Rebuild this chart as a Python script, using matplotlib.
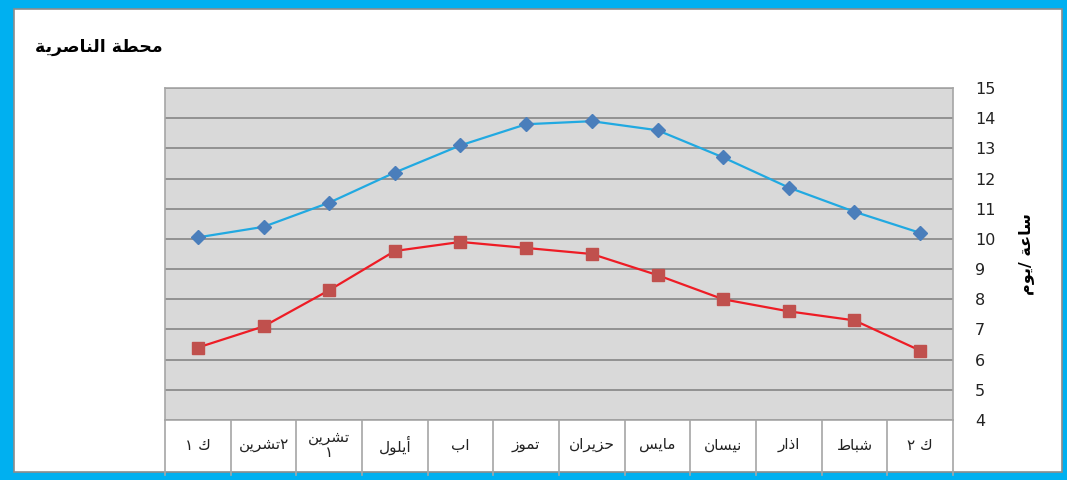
import matplotlib.pyplot as plt
from matplotlib.patches import Rectangle

# contextual glyphs (isolated, final, initial, medial); right-joining letters have only two
FORMS = {
    'ا': ('\ufe8d', '\ufe8e'),
    'أ': ('\ufe83', '\ufe84'),
    'ب': ('\ufe8f', '\ufe90', '\ufe91', '\ufe92'),
    'ة': ('\ufe93', '\ufe94'),
    'ت': ('\ufe95', '\ufe96', '\ufe97', '\ufe98'),
    'ح': ('\ufea1', '\ufea2', '\ufea3', '\ufea4'),
    'ذ': ('\ufeab', '\ufeac'),
    'ر': ('\ufead', '\ufeae'),
    'ز': ('\ufeaf', '\ufeb0'),
    'س': ('\ufeb1', '\ufeb2', '\ufeb3', '\ufeb4'),
    'ش': ('\ufeb5', '\ufeb6', '\ufeb7', '\ufeb8'),
    'ص': ('\ufeb9', '\ufeba', '\ufebb', '\ufebc'),
    'ط': ('\ufec1', '\ufec2', '\ufec3', '\ufec4'),
    'ع': ('\ufec9', '\ufeca', '\ufecb', '\ufecc'),
    'ك': ('\ufed9', '\ufeda', '\ufedb', '\ufedc'),
    'ل': ('\ufedd', '\ufede', '\ufedf', '\ufee0'),
    'م': ('\ufee1', '\ufee2', '\ufee3', '\ufee4'),
    'ن': ('\ufee5', '\ufee6', '\ufee7', '\ufee8'),
    'و': ('\ufeed', '\ufeee'),
    'ي': ('\ufef1', '\ufef2', '\ufef3', '\ufef4'),
}


def rtl(text):
    # join letters and reverse each line, since matplotlib lays text out left to right
    lines = []
    for line in text.split('\n'):
        out = []
        for i, ch in enumerate(line):
            f = FORMS.get(ch)
            if f is None:
                out.append(ch)
                continue
            prev = line[i - 1] if i > 0 else ''
            nxt = line[i + 1] if i + 1 < len(line) else ''
            join_prev = prev in FORMS and len(FORMS[prev]) == 4
            join_next = len(f) == 4 and nxt in FORMS
            if join_prev and join_next:
                out.append(f[3])
            elif join_prev:
                out.append(f[1])
            elif join_next:
                out.append(f[2])
            else:
                out.append(f[0])
        lines.append(''.join(reversed(out)))
    return '\n'.join(lines)


months = ['ك ١', '٢تشرين', 'تشرين\n١', 'أيلول', 'اب', 'تموز',
          'حزيران', 'مايس', 'نيسان', 'اذار', 'شباط', 'ك ٢']
upper = [10.05, 10.4, 11.2, 12.2, 13.1, 13.8, 13.9, 13.6, 12.7, 11.7, 10.9, 10.2]
lower = [6.4, 7.1, 8.3, 9.6, 9.9, 9.7, 9.5, 8.8, 8.0, 7.6, 7.3, 6.3]
yticks = list(range(4, 16))

plt.rcParams['font.family'] = 'DejaVu Sans'

fig = plt.figure(figsize=(10.67, 4.8), dpi=100)
fig.patch.set_facecolor('#00B0F0')
fig.patches.append(Rectangle((14 / 1067, 8 / 480), 1048 / 1067, 463 / 480,
                             transform=fig.transFigure, facecolor='white',
                             edgecolor='#8C8C8C', linewidth=1.2, zorder=-5))

ax = fig.add_axes([165 / 1067, 60 / 480, 788 / 1067, 332 / 480])
ax.set_facecolor('#D9D9D9')
x = list(range(len(months)))

ax.plot(x, upper, color='#21A9E1', linewidth=1.6, marker='D', markersize=7,
        markerfacecolor='#4A7EBB', markeredgecolor='#4A7EBB', zorder=3)
ax.plot(x, lower, color='#EE1C25', linewidth=1.6, marker='s', markersize=9,
        markerfacecolor='#C0504D', markeredgecolor='#C0504D', zorder=3)

ax.set_xlim(-0.5, len(months) - 0.5)
ax.set_ylim(4, 15)
ax.set_yticks(yticks)
ax.yaxis.tick_right()
ax.tick_params(axis='y', length=0, pad=16, labelsize=11.5, colors='#222222')
ax.set_xticks([])
ax.grid(axis='y', color='#8C8C8C', linewidth=1.3)
ax.set_axisbelow(True)
for s in ax.spines.values():
    s.set_color('#A6A6A6')
    s.set_linewidth(1.2)

# category table under the plot area
depth = 55 / 332
for i in range(len(months) + 1):
    ax.plot([i - 0.5, i - 0.5], [0, -depth], transform=ax.get_xaxis_transform(),
            color='#A6A6A6', linewidth=1.2, clip_on=False)
for i, m in enumerate(months):
    ax.text(i, -25 / 332, rtl(m), transform=ax.get_xaxis_transform(),
            ha='center', va='center', fontsize=11, linespacing=1.0,
            color='#222222')

ax.text(1.093, 0.5, rtl('ساعة /يوم'), transform=ax.transAxes, rotation=90,
        ha='center', va='center', fontsize=11.5, fontweight='bold')

fig.text(35 / 1067, 1 - 47 / 480, rtl('محطة الناصرية'), ha='left',
         va='center', fontsize=12.5, fontweight='bold')

fig.savefig('out.png', dpi=100, facecolor=fig.get_facecolor())
